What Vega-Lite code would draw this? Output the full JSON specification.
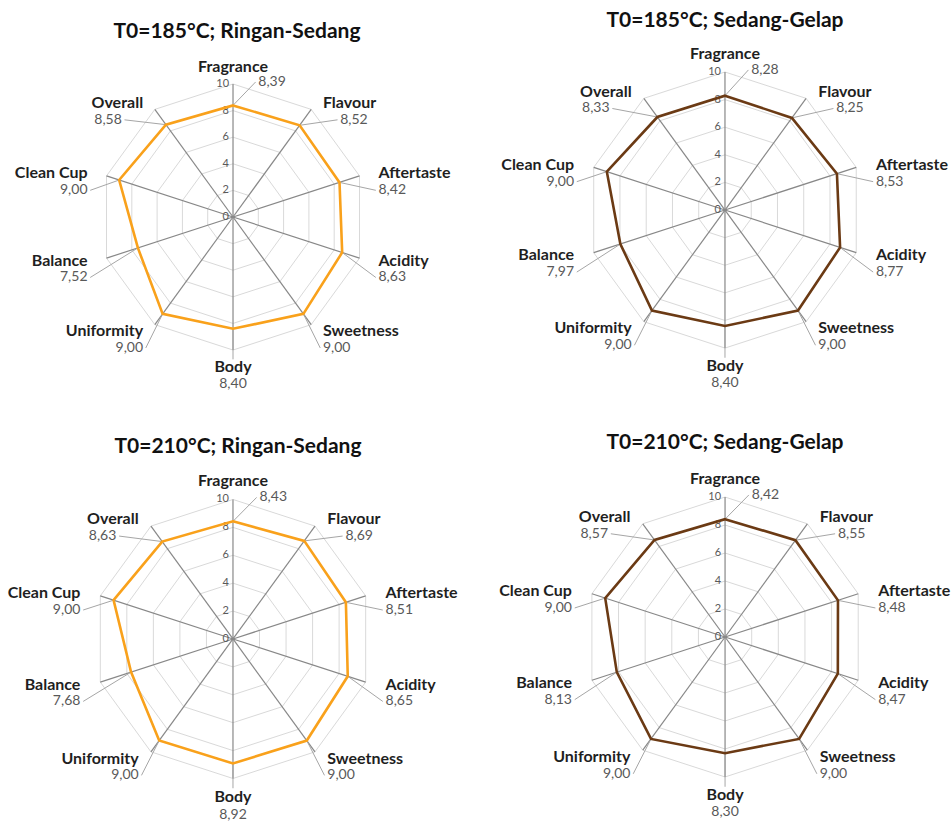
{
"$schema":"https://vega.github.io/schema/vega-lite/v6.json",
"padding":{"top":10,"left":0,"right":0,"bottom":0},
"background":"white",
"config":{"view":{"stroke":null},"title":{"font":"Lato","fontSize":21,"fontWeight":"bold","color":"#111111","anchor":"middle","frame":"group"}},
"datasets":{
"scores":[
{"panel":"A","i":0,"attr":"Fragrance","value":8.39},{"panel":"A","i":1,"attr":"Flavour","value":8.52},{"panel":"A","i":2,"attr":"Aftertaste","value":8.42},{"panel":"A","i":3,"attr":"Acidity","value":8.63},{"panel":"A","i":4,"attr":"Sweetness","value":9.00},{"panel":"A","i":5,"attr":"Body","value":8.40},{"panel":"A","i":6,"attr":"Uniformity","value":9.00},{"panel":"A","i":7,"attr":"Balance","value":7.52},{"panel":"A","i":8,"attr":"Clean Cup","value":9.00},{"panel":"A","i":9,"attr":"Overall","value":8.58},
{"panel":"B","i":0,"attr":"Fragrance","value":8.28},{"panel":"B","i":1,"attr":"Flavour","value":8.25},{"panel":"B","i":2,"attr":"Aftertaste","value":8.53},{"panel":"B","i":3,"attr":"Acidity","value":8.77},{"panel":"B","i":4,"attr":"Sweetness","value":9.00},{"panel":"B","i":5,"attr":"Body","value":8.40},{"panel":"B","i":6,"attr":"Uniformity","value":9.00},{"panel":"B","i":7,"attr":"Balance","value":7.97},{"panel":"B","i":8,"attr":"Clean Cup","value":9.00},{"panel":"B","i":9,"attr":"Overall","value":8.33},
{"panel":"C","i":0,"attr":"Fragrance","value":8.43},{"panel":"C","i":1,"attr":"Flavour","value":8.69},{"panel":"C","i":2,"attr":"Aftertaste","value":8.51},{"panel":"C","i":3,"attr":"Acidity","value":8.65},{"panel":"C","i":4,"attr":"Sweetness","value":9.00},{"panel":"C","i":5,"attr":"Body","value":8.92},{"panel":"C","i":6,"attr":"Uniformity","value":9.00},{"panel":"C","i":7,"attr":"Balance","value":7.68},{"panel":"C","i":8,"attr":"Clean Cup","value":9.00},{"panel":"C","i":9,"attr":"Overall","value":8.63},
{"panel":"D","i":0,"attr":"Fragrance","value":8.42},{"panel":"D","i":1,"attr":"Flavour","value":8.55},{"panel":"D","i":2,"attr":"Aftertaste","value":8.48},{"panel":"D","i":3,"attr":"Acidity","value":8.47},{"panel":"D","i":4,"attr":"Sweetness","value":9.00},{"panel":"D","i":5,"attr":"Body","value":8.30},{"panel":"D","i":6,"attr":"Uniformity","value":9.00},{"panel":"D","i":7,"attr":"Balance","value":8.13},{"panel":"D","i":8,"attr":"Clean Cup","value":9.00},{"panel":"D","i":9,"attr":"Overall","value":8.57}
],
"axes":[
{"i":0,"levels":[2,4,6,8,10]},{"i":1,"levels":[2,4,6,8,10]},{"i":2,"levels":[2,4,6,8,10]},{"i":3,"levels":[2,4,6,8,10]},{"i":4,"levels":[2,4,6,8,10]},{"i":5,"levels":[2,4,6,8,10]},{"i":6,"levels":[2,4,6,8,10]},{"i":7,"levels":[2,4,6,8,10]},{"i":8,"levels":[2,4,6,8,10]},{"i":9,"levels":[2,4,6,8,10]}
],
"ticks":[{"t":0},{"t":2},{"t":4},{"t":6},{"t":8},{"t":10}]
},
"columns":2,
"spacing":{"row":41,"column":0},
"bounds":"flush",
"concat":[
{"width":476,"height":381,
"title":{"text":"T0=185°C; Ringan-Sedang","offset":1,"dx":-1},
"encoding":{"x":{"field":"x","type":"quantitative","scale":{"domain":[-17.52,18.27],"nice":false,"zero":false},"axis":null},"y":{"field":"y","type":"quantitative","scale":{"domain":[-15.56,13.08],"nice":false,"zero":false},"axis":null}},
"layer":[
{"data":{"name":"axes"},"transform":[{"flatten":["levels"],"as":["lv"]},{"calculate":"datum.lv*sin(datum.i*PI/5)","as":"x"},{"calculate":"datum.lv*cos(datum.i*PI/5)","as":"y"}],"mark":{"type":"line","interpolate":"linear-closed","color":"#d9d9d9","strokeWidth":1},"encoding":{"detail":{"field":"lv","type":"nominal"},"order":{"field":"i","type":"quantitative"}}},
{"data":{"name":"axes"},"transform":[{"calculate":"10*sin(datum.i*PI/5)","as":"x"},{"calculate":"10*cos(datum.i*PI/5)","as":"y"}],"mark":{"type":"rule","color":"#888888","strokeWidth":1.2},"encoding":{"x2":{"datum":0},"y2":{"datum":0}}},
{"data":{"name":"ticks"},"transform":[{"calculate":"0","as":"x"},{"calculate":"datum.t","as":"y"}],"mark":{"type":"text","align":"right","baseline":"middle","dx":-4,"font":"Lato","fontSize":11,"color":"#595959"},"encoding":{"text":{"field":"t","type":"quantitative"}}},
{"data":{"name":"scores"},"transform":[{"filter":"datum.panel=='A'"},{"calculate":"datum.value*sin(datum.i*PI/5)","as":"x"},{"calculate":"datum.value*cos(datum.i*PI/5)","as":"y"},{"calculate":"datum.i==0 ? 1.7 : datum.i==5 ? 0 : 11.5*sin(datum.i*PI/5) + (datum.i==1 ? 1.1 : datum.i==9 ? -1.4 : datum.i<5 ? -0.2 : 0.2)","as":"ex"},{"calculate":"datum.i==0 ? 10.15 : datum.i==5 ? -10.7 : 10.6*cos(datum.i*PI/5) - 1.27","as":"ey"}],"mark":{"type":"rule","color":"#a6a6a6","strokeWidth":1},"encoding":{"x2":{"field":"ex"},"y2":{"field":"ey"}}},
{"data":{"name":"scores"},"transform":[{"filter":"datum.panel=='A'"},{"calculate":"datum.value*sin(datum.i*PI/5)","as":"x"},{"calculate":"datum.value*cos(datum.i*PI/5)","as":"y"}],"mark":{"type":"line","interpolate":"linear-closed","color":"#F9A11B","strokeWidth":2.6},"encoding":{"order":{"field":"i","type":"quantitative"}}},
{"data":{"name":"scores"},"transform":[{"filter":"datum.panel=='A'"},{"calculate":"datum.i%5==0 ? 0 : 11.5*sin(datum.i*PI/5)","as":"x"},{"calculate":"datum.i==0 ? 11.3 : datum.i==5 ? -11.3 : 10.6*cos(datum.i*PI/5)","as":"y"}],"mark":{"type":"text","baseline":"middle","align":{"expr":"datum.i==0||datum.i==5 ? 'center' : datum.i<5 ? 'left' : 'right'"},"font":"Lato","fontSize":16,"fontWeight":"bold","color":"#1f1f1f"},"encoding":{"text":{"field":"attr","type":"nominal"}}},
{"data":{"name":"scores"},"transform":[{"filter":"datum.panel=='A'"},{"calculate":"datum.i==0 ? 1.9 : datum.i==5 ? 0 : 11.5*sin(datum.i*PI/5) + (datum.i==1 ? 1.3 : datum.i==9 ? -1.6 : 0)","as":"x"},{"calculate":"datum.i==0 ? 10.15 : datum.i==5 ? -12.55 : 10.6*cos(datum.i*PI/5) - 1.27","as":"y"},{"calculate":"replace(format(datum.value,'.2f'),'.',',')","as":"lab"}],"mark":{"type":"text","baseline":"middle","align":{"expr":"datum.i==5 ? 'center' : datum.i<5 ? 'left' : 'right'"},"font":"Lato","fontSize":14,"color":"#595959"},"encoding":{"text":{"field":"lab","type":"nominal"}}}
]},
{"width":476,"height":381,
"title":{"text":"T0=185°C; Sedang-Gelap","offset":12,"dx":11},
"encoding":{"x":{"field":"x","type":"quantitative","scale":{"domain":[-18.04,16.45],"nice":false,"zero":false},"axis":null},"y":{"field":"y","type":"quantitative","scale":{"domain":[-15.5,12.1],"nice":false,"zero":false},"axis":null}},
"layer":[
{"data":{"name":"axes"},"transform":[{"flatten":["levels"],"as":["lv"]},{"calculate":"datum.lv*sin(datum.i*PI/5)","as":"x"},{"calculate":"datum.lv*cos(datum.i*PI/5)","as":"y"}],"mark":{"type":"line","interpolate":"linear-closed","color":"#d9d9d9","strokeWidth":1},"encoding":{"detail":{"field":"lv","type":"nominal"},"order":{"field":"i","type":"quantitative"}}},
{"data":{"name":"axes"},"transform":[{"calculate":"10*sin(datum.i*PI/5)","as":"x"},{"calculate":"10*cos(datum.i*PI/5)","as":"y"}],"mark":{"type":"rule","color":"#888888","strokeWidth":1.2},"encoding":{"x2":{"datum":0},"y2":{"datum":0}}},
{"data":{"name":"ticks"},"transform":[{"calculate":"0","as":"x"},{"calculate":"datum.t","as":"y"}],"mark":{"type":"text","align":"right","baseline":"middle","dx":-4,"font":"Lato","fontSize":11,"color":"#595959"},"encoding":{"text":{"field":"t","type":"quantitative"}}},
{"data":{"name":"scores"},"transform":[{"filter":"datum.panel=='B'"},{"calculate":"datum.value*sin(datum.i*PI/5)","as":"x"},{"calculate":"datum.value*cos(datum.i*PI/5)","as":"y"},{"calculate":"datum.i==0 ? 1.7 : datum.i==5 ? 0 : 11.5*sin(datum.i*PI/5) + (datum.i==1 ? 1.1 : datum.i==9 ? -1.4 : datum.i<5 ? -0.2 : 0.2)","as":"ex"},{"calculate":"datum.i==0 ? 10.15 : datum.i==5 ? -10.7 : 10.6*cos(datum.i*PI/5) - 1.22","as":"ey"}],"mark":{"type":"rule","color":"#a6a6a6","strokeWidth":1},"encoding":{"x2":{"field":"ex"},"y2":{"field":"ey"}}},
{"data":{"name":"scores"},"transform":[{"filter":"datum.panel=='B'"},{"calculate":"datum.value*sin(datum.i*PI/5)","as":"x"},{"calculate":"datum.value*cos(datum.i*PI/5)","as":"y"}],"mark":{"type":"line","interpolate":"linear-closed","color":"#6B3A14","strokeWidth":2.6},"encoding":{"order":{"field":"i","type":"quantitative"}}},
{"data":{"name":"scores"},"transform":[{"filter":"datum.panel=='B'"},{"calculate":"datum.i%5==0 ? 0 : 11.5*sin(datum.i*PI/5)","as":"x"},{"calculate":"datum.i==0 ? 11.3 : datum.i==5 ? -11.3 : 10.6*cos(datum.i*PI/5)","as":"y"}],"mark":{"type":"text","baseline":"middle","align":{"expr":"datum.i==0||datum.i==5 ? 'center' : datum.i<5 ? 'left' : 'right'"},"font":"Lato","fontSize":16,"fontWeight":"bold","color":"#1f1f1f"},"encoding":{"text":{"field":"attr","type":"nominal"}}},
{"data":{"name":"scores"},"transform":[{"filter":"datum.panel=='B'"},{"calculate":"datum.i==0 ? 1.9 : datum.i==5 ? 0 : 11.5*sin(datum.i*PI/5) + (datum.i==1 ? 1.3 : datum.i==9 ? -1.6 : 0)","as":"x"},{"calculate":"datum.i==0 ? 10.15 : datum.i==5 ? -12.5 : 10.6*cos(datum.i*PI/5) - 1.22","as":"y"},{"calculate":"replace(format(datum.value,'.2f'),'.',',')","as":"lab"}],"mark":{"type":"text","baseline":"middle","align":{"expr":"datum.i==5 ? 'center' : datum.i<5 ? 'left' : 'right'"},"font":"Lato","fontSize":14,"color":"#595959"},"encoding":{"text":{"field":"lab","type":"nominal"}}}
]},
{"width":476,"height":358,
"title":{"text":"T0=210°C; Ringan-Sedang","offset":8,"dx":0},
"encoding":{"x":{"field":"x","type":"quantitative","scale":{"domain":[-16.7,17.42],"nice":false,"zero":false},"axis":null},"y":{"field":"y","type":"quantitative","scale":{"domain":[-13.19,12.47],"nice":false,"zero":false},"axis":null}},
"layer":[
{"data":{"name":"axes"},"transform":[{"flatten":["levels"],"as":["lv"]},{"calculate":"datum.lv*sin(datum.i*PI/5)","as":"x"},{"calculate":"datum.lv*cos(datum.i*PI/5)","as":"y"}],"mark":{"type":"line","interpolate":"linear-closed","color":"#d9d9d9","strokeWidth":1},"encoding":{"detail":{"field":"lv","type":"nominal"},"order":{"field":"i","type":"quantitative"}}},
{"data":{"name":"axes"},"transform":[{"calculate":"10*sin(datum.i*PI/5)","as":"x"},{"calculate":"10*cos(datum.i*PI/5)","as":"y"}],"mark":{"type":"rule","color":"#888888","strokeWidth":1.2},"encoding":{"x2":{"datum":0},"y2":{"datum":0}}},
{"data":{"name":"ticks"},"transform":[{"calculate":"0","as":"x"},{"calculate":"datum.t","as":"y"}],"mark":{"type":"text","align":"right","baseline":"middle","dx":-4,"font":"Lato","fontSize":11,"color":"#595959"},"encoding":{"text":{"field":"t","type":"quantitative"}}},
{"data":{"name":"scores"},"transform":[{"filter":"datum.panel=='C'"},{"calculate":"datum.value*sin(datum.i*PI/5)","as":"x"},{"calculate":"datum.value*cos(datum.i*PI/5)","as":"y"},{"calculate":"datum.i==0 ? 1.7 : datum.i==5 ? 0 : 11.5*sin(datum.i*PI/5) + (datum.i==1 ? 1.1 : datum.i==9 ? -1.4 : datum.i<5 ? -0.2 : 0.2)","as":"ex"},{"calculate":"datum.i==0 ? 10.15 : datum.i==5 ? -10.7 : 10.6*cos(datum.i*PI/5) - 1.2","as":"ey"}],"mark":{"type":"rule","color":"#a6a6a6","strokeWidth":1},"encoding":{"x2":{"field":"ex"},"y2":{"field":"ey"}}},
{"data":{"name":"scores"},"transform":[{"filter":"datum.panel=='C'"},{"calculate":"datum.value*sin(datum.i*PI/5)","as":"x"},{"calculate":"datum.value*cos(datum.i*PI/5)","as":"y"}],"mark":{"type":"line","interpolate":"linear-closed","color":"#F9A11B","strokeWidth":2.6},"encoding":{"order":{"field":"i","type":"quantitative"}}},
{"data":{"name":"scores"},"transform":[{"filter":"datum.panel=='C'"},{"calculate":"datum.i%5==0 ? 0 : 11.5*sin(datum.i*PI/5)","as":"x"},{"calculate":"datum.i==0 ? 11.3 : datum.i==5 ? -11.3 : 10.6*cos(datum.i*PI/5)","as":"y"}],"mark":{"type":"text","baseline":"middle","align":{"expr":"datum.i==0||datum.i==5 ? 'center' : datum.i<5 ? 'left' : 'right'"},"font":"Lato","fontSize":16,"fontWeight":"bold","color":"#1f1f1f"},"encoding":{"text":{"field":"attr","type":"nominal"}}},
{"data":{"name":"scores"},"transform":[{"filter":"datum.panel=='C'"},{"calculate":"datum.i==0 ? 1.9 : datum.i==5 ? 0 : 11.5*sin(datum.i*PI/5) + (datum.i==1 ? 1.3 : datum.i==9 ? -1.6 : 0)","as":"x"},{"calculate":"datum.i==0 ? 10.15 : datum.i==5 ? -12.65 : 10.6*cos(datum.i*PI/5) - 1.2","as":"y"},{"calculate":"replace(format(datum.value,'.2f'),'.',',')","as":"lab"}],"mark":{"type":"text","baseline":"middle","align":{"expr":"datum.i==5 ? 'center' : datum.i<5 ? 'left' : 'right'"},"font":"Lato","fontSize":14,"color":"#595959"},"encoding":{"text":{"field":"lab","type":"nominal"}}}
]},
{"width":476,"height":358,
"title":{"text":"T0=210°C; Sedang-Gelap","offset":12,"dx":11},
"encoding":{"x":{"field":"x","type":"quantitative","scale":{"domain":[-17.79,16.21],"nice":false,"zero":false},"axis":null},"y":{"field":"y","type":"quantitative","scale":{"domain":[-13.29,12.29],"nice":false,"zero":false},"axis":null}},
"layer":[
{"data":{"name":"axes"},"transform":[{"flatten":["levels"],"as":["lv"]},{"calculate":"datum.lv*sin(datum.i*PI/5)","as":"x"},{"calculate":"datum.lv*cos(datum.i*PI/5)","as":"y"}],"mark":{"type":"line","interpolate":"linear-closed","color":"#d9d9d9","strokeWidth":1},"encoding":{"detail":{"field":"lv","type":"nominal"},"order":{"field":"i","type":"quantitative"}}},
{"data":{"name":"axes"},"transform":[{"calculate":"10*sin(datum.i*PI/5)","as":"x"},{"calculate":"10*cos(datum.i*PI/5)","as":"y"}],"mark":{"type":"rule","color":"#888888","strokeWidth":1.2},"encoding":{"x2":{"datum":0},"y2":{"datum":0}}},
{"data":{"name":"ticks"},"transform":[{"calculate":"0","as":"x"},{"calculate":"datum.t","as":"y"}],"mark":{"type":"text","align":"right","baseline":"middle","dx":-4,"font":"Lato","fontSize":11,"color":"#595959"},"encoding":{"text":{"field":"t","type":"quantitative"}}},
{"data":{"name":"scores"},"transform":[{"filter":"datum.panel=='D'"},{"calculate":"datum.value*sin(datum.i*PI/5)","as":"x"},{"calculate":"datum.value*cos(datum.i*PI/5)","as":"y"},{"calculate":"datum.i==0 ? 1.7 : datum.i==5 ? 0 : 11.5*sin(datum.i*PI/5) + (datum.i==1 ? 1.1 : datum.i==9 ? -1.4 : datum.i<5 ? -0.2 : 0.2)","as":"ex"},{"calculate":"datum.i==0 ? 10.15 : datum.i==5 ? -10.7 : 10.6*cos(datum.i*PI/5) - 1.2","as":"ey"}],"mark":{"type":"rule","color":"#a6a6a6","strokeWidth":1},"encoding":{"x2":{"field":"ex"},"y2":{"field":"ey"}}},
{"data":{"name":"scores"},"transform":[{"filter":"datum.panel=='D'"},{"calculate":"datum.value*sin(datum.i*PI/5)","as":"x"},{"calculate":"datum.value*cos(datum.i*PI/5)","as":"y"}],"mark":{"type":"line","interpolate":"linear-closed","color":"#6B3A14","strokeWidth":2.6},"encoding":{"order":{"field":"i","type":"quantitative"}}},
{"data":{"name":"scores"},"transform":[{"filter":"datum.panel=='D'"},{"calculate":"datum.i%5==0 ? 0 : 11.5*sin(datum.i*PI/5)","as":"x"},{"calculate":"datum.i==0 ? 11.3 : datum.i==5 ? -11.3 : 10.6*cos(datum.i*PI/5)","as":"y"}],"mark":{"type":"text","baseline":"middle","align":{"expr":"datum.i==0||datum.i==5 ? 'center' : datum.i<5 ? 'left' : 'right'"},"font":"Lato","fontSize":16,"fontWeight":"bold","color":"#1f1f1f"},"encoding":{"text":{"field":"attr","type":"nominal"}}},
{"data":{"name":"scores"},"transform":[{"filter":"datum.panel=='D'"},{"calculate":"datum.i==0 ? 1.9 : datum.i==5 ? 0 : 11.5*sin(datum.i*PI/5) + (datum.i==1 ? 1.3 : datum.i==9 ? -1.6 : 0)","as":"x"},{"calculate":"datum.i==0 ? 10.15 : datum.i==5 ? -12.5 : 10.6*cos(datum.i*PI/5) - 1.2","as":"y"},{"calculate":"replace(format(datum.value,'.2f'),'.',',')","as":"lab"}],"mark":{"type":"text","baseline":"middle","align":{"expr":"datum.i==5 ? 'center' : datum.i<5 ? 'left' : 'right'"},"font":"Lato","fontSize":14,"color":"#595959"},"encoding":{"text":{"field":"lab","type":"nominal"}}}
]}
]
}
